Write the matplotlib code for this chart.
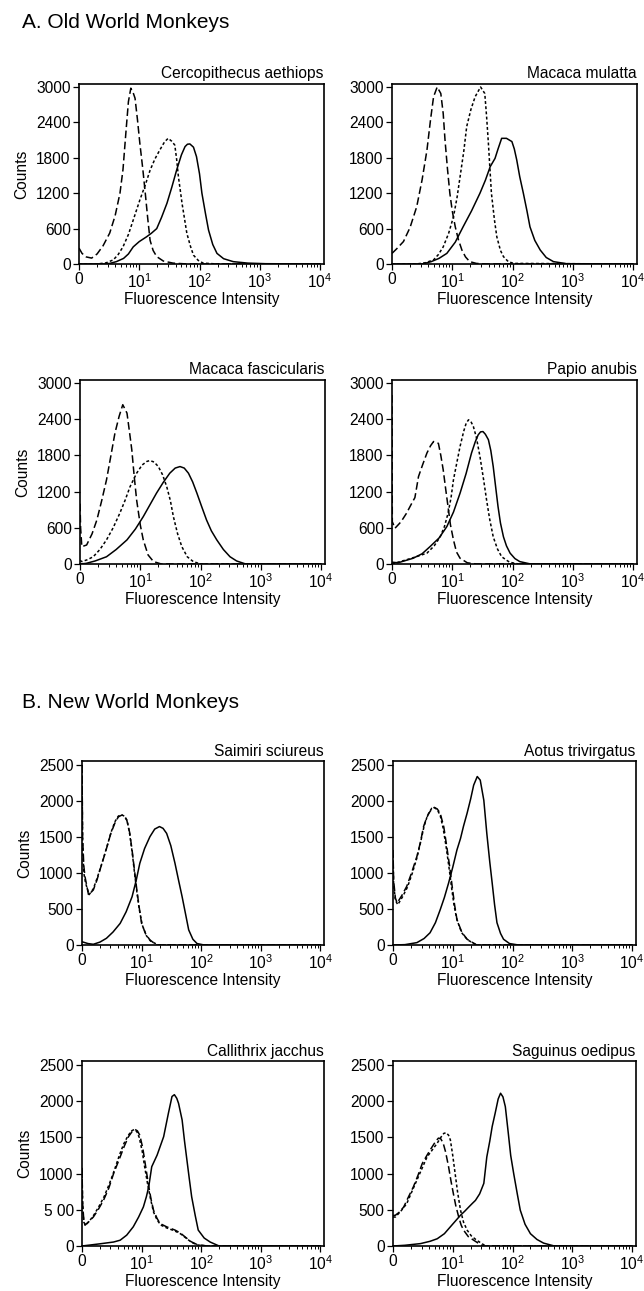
import numpy as np
import matplotlib.pyplot as plt
from matplotlib.ticker import NullFormatter, LogLocator

plt.rcParams['font.family'] = ['Liberation Sans', 'DejaVu Sans']
plt.rcParams['mathtext.default'] = 'regular'

# fluorescence given as log10(intensity), counts per channel
# --- A. Old World Monkeys ---
cerco_dash_lx = [0, 0.05, 0.12, 0.21, 0.30, 0.40, 0.51, 0.60, 0.68, 0.73, 0.78, 0.82, 0.86, 0.90, 0.93, 0.97, 1.01, 1.06, 1.10, 1.14, 1.18, 1.23, 1.29, 1.40, 1.56, 1.8, 4.0]
cerco_dash_ct = [270, 180, 120, 100, 170, 310, 525, 820, 1200, 1600, 2250, 2750, 2980, 2900, 2810, 2450, 2045, 1600, 1200, 780, 400, 230, 125, 50, 15, 0, 0]
cerco_dot_lx = [0, 0.3, 0.45, 0.57, 0.65, 0.73, 0.82, 0.90, 1.01, 1.10, 1.18, 1.26, 1.34, 1.42, 1.48, 1.54, 1.59, 1.62, 1.65, 1.71, 1.79, 1.85, 1.90, 1.98, 2.06, 2.3, 4.0]
cerco_dot_ct = [0, 0, 20, 70, 160, 290, 500, 745, 1085, 1340, 1590, 1780, 1930, 2070, 2130, 2080, 2015, 1780, 1480, 1030, 520, 300, 150, 60, 15, 0, 0]
cerco_sol_lx = [0, 0.4, 0.51, 0.62, 0.74, 0.82, 0.90, 1.0, 1.12, 1.20, 1.29, 1.37, 1.46, 1.54, 1.62, 1.70, 1.76, 1.80, 1.84, 1.90, 1.95, 2.00, 2.04, 2.10, 2.15, 2.22, 2.29, 2.40, 2.56, 2.8, 3.1, 4.0]
cerco_sol_ct = [0, 0, 10, 40, 95, 170, 290, 380, 460, 520, 600, 790, 1030, 1300, 1590, 1850, 1990, 2030, 2035, 1980, 1820, 1530, 1200, 850, 575, 330, 180, 90, 40, 15, 5, 0]

mulatta_dash_lx = [0, 0.08, 0.19, 0.30, 0.41, 0.50, 0.58, 0.64, 0.69, 0.75, 0.81, 0.85, 0.88, 0.92, 0.96, 1.00, 1.05, 1.10, 1.16, 1.22, 1.29, 1.40, 1.57, 4.0]
mulatta_dash_ct = [180, 260, 380, 620, 970, 1430, 1930, 2450, 2835, 3000, 2890, 2550, 2100, 1620, 1200, 900, 630, 420, 237, 120, 40, 10, 0, 0]
mulatta_dot_lx = [0, 0.4, 0.55, 0.69, 0.77, 0.85, 0.94, 1.02, 1.08, 1.13, 1.19, 1.24, 1.31, 1.38, 1.47, 1.54, 1.57, 1.60, 1.65, 1.70, 1.74, 1.80, 1.85, 1.93, 2.02, 4.0]
mulatta_dot_ct = [0, 0, 20, 70, 160, 290, 520, 800, 1130, 1480, 1900, 2330, 2620, 2835, 3000, 2890, 2500, 2045, 1200, 750, 460, 230, 125, 40, 10, 0]
mulatta_sol_lx = [0, 0.5, 0.65, 0.78, 0.91, 1.05, 1.18, 1.32, 1.46, 1.55, 1.63, 1.71, 1.76, 1.82, 1.90, 1.99, 2.03, 2.07, 2.12, 2.18, 2.24, 2.29, 2.37, 2.46, 2.56, 2.68, 2.9, 4.0]
mulatta_sol_ct = [0, 0, 40, 95, 180, 370, 630, 900, 1200, 1420, 1650, 1790, 1950, 2130, 2130, 2075, 1950, 1765, 1480, 1200, 900, 630, 400, 237, 110, 40, 5, 0]

fasc_dash_lx = [0, 0.01, 0.03, 0.11, 0.20, 0.28, 0.36, 0.44, 0.51, 0.58, 0.65, 0.71, 0.78, 0.82, 0.86, 0.90, 0.94, 1.00, 1.05, 1.13, 1.22, 1.35, 4.0]
fasc_dash_ct = [1000, 600, 287, 315, 500, 730, 1050, 1395, 1780, 2170, 2450, 2640, 2500, 2200, 1890, 1450, 1060, 650, 400, 150, 40, 0, 0]
fasc_dot_lx = [0, 0.03, 0.12, 0.22, 0.33, 0.44, 0.55, 0.66, 0.75, 0.83, 0.94, 1.03, 1.11, 1.16, 1.23, 1.30, 1.37, 1.44, 1.50, 1.55, 1.62, 1.69, 1.78, 1.88, 2.0, 4.0]
fasc_dot_ct = [60, 40, 70, 120, 240, 400, 600, 840, 1060, 1280, 1505, 1640, 1700, 1715, 1690, 1615, 1480, 1280, 1050, 785, 500, 287, 120, 40, 0, 0]
fasc_sol_lx = [0, 0.1, 0.25, 0.44, 0.6, 0.78, 0.92, 1.05, 1.16, 1.27, 1.38, 1.49, 1.58, 1.66, 1.73, 1.80, 1.87, 1.94, 2.02, 2.10, 2.18, 2.27, 2.38, 2.49, 2.6, 2.75, 4.0]
fasc_sol_ct = [0, 10, 50, 120, 240, 400, 580, 785, 980, 1175, 1350, 1505, 1590, 1615, 1590, 1505, 1360, 1175, 950, 730, 550, 400, 240, 120, 50, 0, 0]

papio_dash_lx = [0, 0.005, 0.05, 0.15, 0.24, 0.33, 0.38, 0.44, 0.51, 0.58, 0.64, 0.69, 0.77, 0.81, 0.85, 0.89, 0.93, 0.97, 1.02, 1.07, 1.13, 1.25, 1.4, 4.0]
papio_dash_ct = [2800, 700, 593, 700, 840, 1010, 1100, 1450, 1650, 1840, 1960, 2030, 2000, 1800, 1560, 1250, 950, 650, 400, 200, 95, 20, 0, 0]
papio_dot_lx = [0, 0.1, 0.24, 0.4, 0.58, 0.70, 0.80, 0.87, 0.93, 0.98, 1.02, 1.08, 1.13, 1.19, 1.23, 1.27, 1.31, 1.35, 1.40, 1.46, 1.52, 1.57, 1.62, 1.68, 1.75, 1.82, 1.95, 2.1, 4.0]
papio_dot_ct = [0, 30, 70, 120, 180, 300, 450, 620, 840, 1100, 1395, 1700, 1950, 2200, 2330, 2390, 2360, 2280, 2100, 1780, 1400, 1060, 750, 450, 250, 120, 30, 0, 0]
papio_sol_lx = [0, 0.1, 0.35, 0.5, 0.63, 0.78, 0.91, 1.02, 1.13, 1.23, 1.32, 1.38, 1.43, 1.47, 1.51, 1.55, 1.60, 1.64, 1.68, 1.72, 1.76, 1.80, 1.85, 1.90, 1.96, 2.04, 2.12, 2.3, 4.0]
papio_sol_ct = [30, 20, 95, 170, 287, 430, 620, 860, 1175, 1500, 1840, 2020, 2140, 2190, 2195, 2150, 2060, 1880, 1615, 1280, 950, 680, 450, 300, 180, 90, 40, 0, 0]

# --- B. New World Monkeys ---
saimiri_dash_lx = [0, 0.01, 0.03, 0.05, 0.11, 0.19, 0.25, 0.30, 0.36, 0.42, 0.48, 0.55, 0.61, 0.67, 0.72, 0.75, 0.80, 0.84, 0.88, 0.92, 0.96, 1.00, 1.07, 1.14, 1.25, 4.0]
saimiri_dash_ct = [2500, 1500, 1100, 950, 695, 765, 900, 1040, 1200, 1365, 1540, 1690, 1780, 1805, 1780, 1740, 1560, 1320, 1040, 765, 520, 300, 150, 70, 0, 0]
saimiri_dot_lx = [0, 0.01, 0.03, 0.06, 0.12, 0.19, 0.25, 0.31, 0.37, 0.43, 0.49, 0.55, 0.61, 0.66, 0.71, 0.76, 0.80, 0.84, 0.88, 0.92, 0.96, 1.01, 1.08, 1.15, 1.28, 4.0]
saimiri_dot_ct = [2500, 1400, 1000, 860, 700, 780, 920, 1070, 1230, 1400, 1570, 1710, 1790, 1810, 1790, 1720, 1540, 1300, 1010, 740, 500, 280, 130, 55, 0, 0]
saimiri_sol_lx = [0, 0.04, 0.1, 0.19, 0.3, 0.41, 0.52, 0.64, 0.74, 0.84, 0.91, 0.97, 1.05, 1.14, 1.22, 1.30, 1.36, 1.42, 1.49, 1.56, 1.62, 1.68, 1.74, 1.79, 1.86, 1.93, 2.05, 4.0]
saimiri_sol_ct = [45, 35, 20, 10, 40, 93, 180, 300, 460, 670, 900, 1135, 1340, 1505, 1610, 1645, 1620, 1550, 1380, 1135, 900, 670, 420, 210, 80, 20, 0, 0]

aotus_dash_lx = [0, 0.01, 0.04, 0.07, 0.15, 0.23, 0.31, 0.40, 0.46, 0.51, 0.56, 0.60, 0.65, 0.69, 0.74, 0.79, 0.85, 0.90, 0.95, 0.99, 1.03, 1.07, 1.15, 1.24, 1.4, 4.0]
aotus_dash_ct = [1320, 900, 650, 585, 690, 815, 1000, 1230, 1430, 1640, 1760, 1830, 1890, 1910, 1890, 1830, 1640, 1365, 1080, 815, 560, 355, 180, 80, 0, 0]
aotus_dot_lx = [0, 0.01, 0.04, 0.08, 0.16, 0.24, 0.32, 0.40, 0.46, 0.52, 0.57, 0.61, 0.65, 0.69, 0.74, 0.79, 0.84, 0.89, 0.94, 0.98, 1.02, 1.07, 1.15, 1.25, 1.4, 4.0]
aotus_dot_ct = [1250, 850, 620, 560, 670, 800, 990, 1210, 1420, 1650, 1780, 1850, 1900, 1910, 1880, 1800, 1620, 1360, 1060, 800, 560, 350, 170, 70, 0, 0]
aotus_sol_lx = [0, 0.2, 0.40, 0.52, 0.62, 0.71, 0.79, 0.86, 0.93, 1.00, 1.07, 1.13, 1.18, 1.24, 1.30, 1.35, 1.41, 1.46, 1.52, 1.57, 1.62, 1.66, 1.70, 1.74, 1.80, 1.85, 1.95, 2.1, 4.0]
aotus_sol_ct = [0, 5, 33, 90, 170, 310, 490, 660, 860, 1080, 1320, 1480, 1650, 1830, 2030, 2220, 2340, 2290, 2010, 1550, 1150, 860, 560, 310, 160, 80, 20, 0, 0]

calli_dash_lx = [0, 0.01, 0.03, 0.05, 0.12, 0.19, 0.27, 0.36, 0.45, 0.53, 0.64, 0.71, 0.78, 0.84, 0.89, 0.93, 0.97, 1.02, 1.06, 1.12, 1.16, 1.20, 1.26, 1.31, 1.42, 1.56, 1.65, 1.73, 1.83, 1.93, 2.1, 4.0]
calli_dash_ct = [1080, 600, 350, 287, 340, 400, 500, 630, 800, 1000, 1230, 1380, 1510, 1580, 1610, 1590, 1530, 1350, 1140, 820, 640, 495, 380, 310, 265, 220, 180, 125, 60, 20, 0, 0]
calli_dot_lx = [0, 0.01, 0.03, 0.06, 0.13, 0.2, 0.28, 0.37, 0.46, 0.54, 0.63, 0.7, 0.77, 0.83, 0.88, 0.92, 0.96, 1.01, 1.05, 1.1, 1.15, 1.2, 1.26, 1.32, 1.42, 1.55, 1.65, 1.73, 1.83, 1.93, 2.1, 4.0]
calli_dot_ct = [1050, 580, 330, 290, 350, 430, 540, 680, 860, 1040, 1260, 1410, 1520, 1590, 1610, 1580, 1500, 1310, 1100, 860, 650, 470, 360, 290, 250, 210, 170, 120, 55, 15, 0, 0]
calli_sol_lx = [0, 0.3, 0.53, 0.64, 0.75, 0.86, 0.95, 1.03, 1.08, 1.12, 1.17, 1.26, 1.37, 1.45, 1.51, 1.55, 1.59, 1.62, 1.68, 1.72, 1.76, 1.80, 1.84, 1.90, 1.95, 2.05, 2.15, 2.3, 4.0]
calli_sol_ct = [0, 30, 55, 80, 150, 265, 400, 540, 680, 820, 1095, 1255, 1510, 1835, 2065, 2090, 2040, 1970, 1740, 1450, 1190, 930, 680, 420, 220, 110, 55, 0, 0]

sag_dash_lx = [0, 0.04, 0.11, 0.18, 0.26, 0.34, 0.42, 0.49, 0.57, 0.64, 0.71, 0.76, 0.80, 0.84, 0.88, 0.93, 0.97, 1.01, 1.05, 1.10, 1.14, 1.18, 1.26, 1.35, 1.5, 4.0]
sag_dash_ct = [420, 425, 470, 540, 680, 815, 980, 1140, 1255, 1350, 1440, 1490, 1480, 1420, 1300, 1095, 900, 725, 560, 400, 290, 220, 130, 80, 0, 0]
sag_dot_lx = [0, 0.04, 0.13, 0.23, 0.31, 0.40, 0.49, 0.57, 0.66, 0.74, 0.80, 0.85, 0.89, 0.93, 0.96, 1.00, 1.04, 1.08, 1.13, 1.18, 1.24, 1.31, 1.40, 1.55, 4.0]
sag_dot_ct = [400, 400, 480, 585, 740, 910, 1080, 1230, 1330, 1420, 1500, 1555, 1565, 1530, 1465, 1250, 1000, 750, 495, 330, 220, 140, 80, 0, 0]
sag_sol_lx = [0, 0.2, 0.46, 0.62, 0.74, 0.86, 0.96, 1.05, 1.13, 1.20, 1.27, 1.33, 1.38, 1.45, 1.52, 1.57, 1.62, 1.66, 1.71, 1.76, 1.80, 1.84, 1.88, 1.93, 1.97, 2.02, 2.08, 2.13, 2.21, 2.30, 2.41, 2.52, 2.7, 4.0]
sag_sol_ct = [0, 10, 33, 65, 100, 170, 265, 350, 425, 480, 540, 590, 630, 720, 865, 1230, 1450, 1650, 1835, 2030, 2110, 2060, 1925, 1555, 1250, 1000, 720, 495, 300, 170, 90, 40, 0, 0]

species = ['Cercopithecus aethiops', 'Macaca mulatta', 'Macaca fascicularis', 'Papio anubis',
           'Saimiri sciureus', 'Aotus trivirgatus', 'Callithrix jacchus', 'Saguinus oedipus']
curves = [
    (cerco_dash_lx, cerco_dash_ct, cerco_dot_lx, cerco_dot_ct, cerco_sol_lx, cerco_sol_ct),
    (mulatta_dash_lx, mulatta_dash_ct, mulatta_dot_lx, mulatta_dot_ct, mulatta_sol_lx, mulatta_sol_ct),
    (fasc_dash_lx, fasc_dash_ct, fasc_dot_lx, fasc_dot_ct, fasc_sol_lx, fasc_sol_ct),
    (papio_dash_lx, papio_dash_ct, papio_dot_lx, papio_dot_ct, papio_sol_lx, papio_sol_ct),
    (saimiri_dash_lx, saimiri_dash_ct, saimiri_dot_lx, saimiri_dot_ct, saimiri_sol_lx, saimiri_sol_ct),
    (aotus_dash_lx, aotus_dash_ct, aotus_dot_lx, aotus_dot_ct, aotus_sol_lx, aotus_sol_ct),
    (calli_dash_lx, calli_dash_ct, calli_dot_lx, calli_dot_ct, calli_sol_lx, calli_sol_ct),
    (sag_dash_lx, sag_dash_ct, sag_dot_lx, sag_dot_ct, sag_sol_lx, sag_sol_ct),
]

old_yticks = [0, 600, 1200, 1800, 2400, 3000]
new_yticks = [0, 500, 1000, 1500, 2000, 2500]
calli_ylabels = ['0', '5 00', '1000', '1500', '2000', '2500']
xtick_vals = [1, 10, 100, 1000, 10000]
xtick_labels = ['0', '$10^1$', '$10^2$', '$10^3$', '$10^4$']

W, H = 644, 1291
fig = plt.figure(figsize=(W / 100, H / 100), dpi=100)

# axes boxes in pixels: left, y of zero line, px per decade, px for ylim
boxes = [
    (79, 264, 60.25, 177 * 3050 / 3000),
    (392, 264, 60.25, 177 * 3050 / 3000),
    (80, 564, 60.25, 181 * 3050 / 3000),
    (392, 564, 60.25, 181 * 3050 / 3000),
    (82, 945, 59.6, 180 * 2550 / 2500),
    (393, 945, 59.75, 180 * 2550 / 2500),
    (82, 1246, 59.6, 181 * 2550 / 2500),
    (393, 1246, 59.75, 181 * 2550 / 2500),
]
xmax_dec = 4.06

fs = 11.2
for i, (name, c, b) in enumerate(zip(species, curves, boxes)):
    left, base, dec, hpx = b
    ax = fig.add_axes([left / W, 1 - base / H, dec * xmax_dec / W, hpx / H])
    dlx, dct, olx, oct_, slx, sct = c
    ax.plot(10 ** np.array(dlx), dct, color='black', lw=1.1, dashes=(5.0, 2.3))
    ax.plot(10 ** np.array(olx), oct_, color='black', lw=1.1, dashes=(1.9, 1.5))
    ax.plot(10 ** np.array(slx), sct, color='black', lw=1.1)
    ax.set_xscale('log')
    ax.set_xlim(1, 10 ** xmax_dec)
    if i < 4:
        ax.set_ylim(0, 3050)
        ax.set_yticks(old_yticks)
    else:
        ax.set_ylim(0, 2550)
        ax.set_yticks(new_yticks)
        if i == 6:
            ax.set_yticklabels(calli_ylabels)
    ax.set_xticks(xtick_vals)
    ax.set_xticklabels(xtick_labels)
    ax.xaxis.set_minor_locator(LogLocator(base=10, subs=np.arange(2, 10)))
    ax.xaxis.set_minor_formatter(NullFormatter())
    ax.tick_params(which='major', direction='out', length=4, width=0.9, labelsize=fs, pad=2)
    ax.tick_params(which='minor', direction='out', length=2.5, width=0.7)
    for s in ax.spines.values():
        s.set_linewidth(1.2)
    ax.set_title(name, loc='right', fontsize=fs, pad=4)
    ax.set_xlabel('Fluorescence Intensity', fontsize=fs, labelpad=0.5)
    if i % 2 == 0:
        ax.set_ylabel('Counts', fontsize=fs, labelpad=5)

fig.text(22 / W, 1 - 22 / H, 'A. Old World Monkeys', fontsize=15, va='center', ha='left')
fig.text(22 / W, 1 - 703 / H, 'B. New World Monkeys', fontsize=15, va='center', ha='left')

plt.savefig('out.png', dpi=100)
